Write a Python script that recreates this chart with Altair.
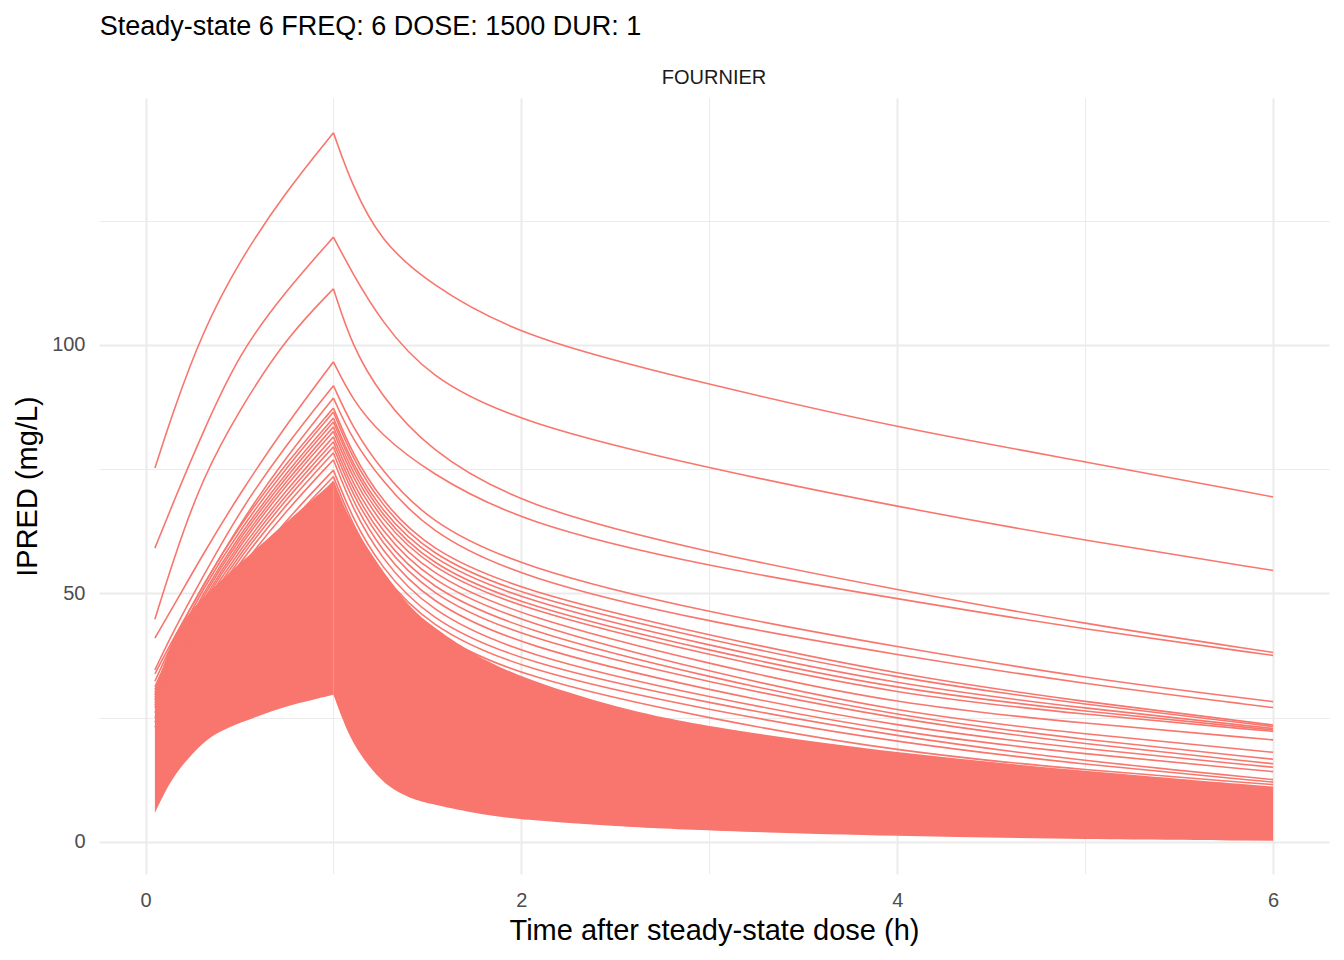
import altair as alt
import pandas as pd

RED = "#F8766D"
FONT = "Liberation Sans"

# sampling times (h) for the individual profiles
T = [0.05, 0.15, 0.3, 0.5, 0.75, 1.0, 1.1, 1.25, 1.5, 2.0, 3.0, 4.0, 5.0, 6.0]

# clearly separated individual profiles (IPRED, mg/L)
ID_A = [75.2, 86.9, 102.4, 117.0, 131.0, 142.7, 132.0, 121.0, 112.5, 101.4, 92.0, 83.3, 76.5, 69.4]
ID_B = [59.1, 68.5, 82.0, 98.5, 111.0, 121.7, 114.5, 105.0, 93.6, 84.2, 75.1, 67.4, 60.6, 54.6]
ID_C = [44.8, 57.0, 73.0, 87.0, 101.5, 111.3, 99.7, 90.0, 79.0, 67.5, 58.1, 50.7, 43.8, 38.1]
ID_D = [41.0, 47.5, 57.5, 70.0, 84.0, 96.6, 89.0, 82.0, 74.5, 64.1, 55.3, 48.9, 42.7, 37.5]
ID_E = [34.6, 42.5, 53.0, 66.5, 80.0, 91.8, 83.5, 75.0, 64.5, 55.1, 46.0, 39.2, 32.9, 28.2]
ID_F = [33.8, 41.0, 51.0, 64.0, 77.5, 89.3, 81.0, 73.0, 62.5, 53.0, 44.1, 37.6, 31.7, 27.0]
# band of profiles just above the dense core
ID_G01 = [32.3, 40.6, 51.5, 63.6, 76.3, 87.3, 78.1, 68.9, 58.9, 50.4, 41.5, 33.6, 28.1, 23.5]
ID_G02 = [31.2, 39.5, 50.6, 62.7, 75.4, 86.5, 77.2, 68.0, 57.9, 49.4, 40.6, 32.8, 27.6, 23.2]
ID_G03 = [30.6, 38.8, 49.7, 61.8, 74.4, 85.3, 76.1, 66.9, 57.0, 48.5, 39.4, 31.6, 26.8, 22.8]
ID_G04 = [30.0, 38.2, 49.1, 61.1, 73.6, 84.5, 75.3, 66.0, 56.0, 47.5, 38.4, 30.6, 26.2, 22.5]
ID_G05 = [29.5, 37.6, 48.4, 60.3, 72.7, 83.5, 74.3, 65.1, 55.2, 46.7, 37.5, 29.6, 25.6, 22.2]
ID_G06 = [29.0, 37.0, 47.8, 59.6, 71.9, 82.6, 73.3, 64.0, 53.9, 45.3, 35.7, 27.6, 23.8, 20.5]
ID_G07 = [28.5, 36.5, 47.1, 58.7, 70.9, 81.5, 72.1, 62.8, 52.6, 44.0, 34.1, 26.0, 21.6, 18.0]
ID_G08 = [28.0, 35.9, 46.4, 57.9, 70.0, 80.5, 71.0, 61.5, 51.2, 42.5, 33.0, 25.2, 20.5, 16.6]
ID_G09 = [27.5, 35.3, 45.7, 57.1, 69.1, 79.5, 69.9, 60.3, 49.9, 41.0, 32.0, 24.5, 19.6, 15.7]
ID_G10 = [27.0, 34.7, 45.0, 56.2, 68.0, 78.3, 68.6, 58.8, 48.3, 39.3, 30.4, 23.1, 18.6, 15.0]
ID_G11 = [26.0, 33.6, 43.8, 55.0, 66.7, 76.9, 67.1, 57.2, 46.6, 37.5, 29.0, 21.9, 17.6, 14.1]
ID_G12 = [25.0, 32.5, 42.4, 53.4, 64.8, 74.8, 65.1, 55.4, 44.9, 36.0, 27.8, 21.1, 16.2, 12.5]
ID_G13 = [24.0, 31.4, 41.3, 52.2, 63.6, 73.5, 63.8, 54.0, 43.5, 34.5, 26.4, 19.9, 15.5, 12.0]
ID_G14 = [23.0, 30.4, 40.3, 51.2, 62.6, 72.5, 62.6, 52.8, 42.1, 33.0, 24.7, 18.1, 14.4, 11.5]

PROFILES = [ID_A, ID_B, ID_C, ID_D, ID_E, ID_F, ID_G01, ID_G02, ID_G03, ID_G04,
            ID_G05, ID_G06, ID_G07, ID_G08, ID_G09, ID_G10, ID_G11, ID_G12, ID_G13, ID_G14]

# the densely overplotted core of hundreds of profiles: lowest and upper envelope
T_CORE = [0.05, 0.1, 0.15, 0.2, 0.3, 0.4, 0.5, 0.65, 0.8, 1.0, 1.05, 1.1, 1.2, 1.3,
          1.4, 1.5, 1.75, 2.0, 2.5, 3.0, 4.0, 5.0, 6.0]
CORE_LO = [5.8, 9.8, 13.0, 15.6, 19.9, 22.3, 23.9, 26.0, 27.8, 29.6, 24.5, 20.0, 14.5, 10.8,
           8.9, 7.7, 5.7, 4.4, 3.1, 2.2, 1.1, 0.5, 0.2]
CORE_HI = [30.5, 36.0, 41.0, 44.5, 49.0, 52.5, 56.0, 61.0, 66.0, 72.5, 68.0, 64.0, 58.0, 52.5,
           47.5, 44.0, 37.5, 33.0, 27.0, 23.0, 17.8, 14.2, 11.1]

PANEL = "FOURNIER"
END_OF_INFUSION = 1.0

rows = []
for i, prof in enumerate(PROFILES):
    for t, v in zip(T, prof):
        # infusion phase and post-infusion phase drawn as two pieces meeting at the peak
        if t <= END_OF_INFUSION:
            rows.append({"kind": "line", "id": f"{i}-a", "t": t, "v": v, "panel": PANEL})
        if t >= END_OF_INFUSION:
            rows.append({"kind": "line", "id": f"{i}-b", "t": t, "v": v, "panel": PANEL})
for t, lo, hi in zip(T_CORE, CORE_LO, CORE_HI):
    if t <= END_OF_INFUSION:
        rows.append({"kind": "core_a", "t": t, "lo": lo, "hi": hi, "panel": PANEL})
    if t >= END_OF_INFUSION:
        rows.append({"kind": "core_b", "t": t, "lo": lo, "hi": hi, "panel": PANEL})
df = pd.DataFrame(rows)

x_scale = alt.Scale(domain=[-0.2475, 6.2975], nice=False, zero=False)
y_scale = alt.Scale(domain=[-6.5, 149.7], nice=False, zero=False)

x_axis = alt.Axis(
    title="Time after steady-state dose (h)",
    values=[0, 1, 2, 3, 4, 5, 6],
    labelExpr="datum.value % 2 === 0 ? datum.label : ''",
    gridWidth={"condition": {"test": "datum.value % 2 === 0", "value": 2}, "value": 1},
    domain=False, ticks=False, tickSize=0,
    labelPadding=16, titlePadding=6,
)
y_axis = alt.Axis(
    title="IPRED (mg/L)",
    values=[0, 25, 50, 75, 100, 125],
    labelExpr="datum.value % 50 === 0 ? datum.label : ''",
    gridWidth={"condition": {"test": "datum.value % 50 === 0", "value": 2}, "value": 1},
    domain=False, ticks=False, tickSize=0,
    labelPadding=14, titlePadding=9,
)


def core_layer(kind):
    return alt.Chart().transform_filter(f"datum.kind === '{kind}'").mark_area(
        color=RED, opacity=1, interpolate="basis"
    ).encode(
        x=alt.X("t:Q", scale=x_scale, axis=x_axis),
        y=alt.Y("lo:Q", scale=y_scale, axis=y_axis),
        y2="hi:Q",
    )


lines = alt.Chart().transform_filter("datum.kind === 'line'").mark_line(
    color=RED, strokeWidth=1.6, interpolate="basis"
).encode(
    x=alt.X("t:Q", scale=x_scale, axis=x_axis),
    y=alt.Y("v:Q", scale=y_scale, axis=y_axis),
    detail="id:N",
)

chart = alt.layer(core_layer("core_a"), core_layer("core_b"), lines, data=df).properties(
    width=1230, height=776
).facet(
    column=alt.Column(
        "panel:N",
        header=alt.Header(title=None, labelFontSize=20, labelFont=FONT,
                          labelColor="#1a1a1a", labelPadding=10),
    )
).properties(
    title=alt.TitleParams(
        "Steady-state 6 FREQ: 6 DOSE: 1500 DUR: 1",
        anchor="start", fontSize=27, fontWeight="normal", font=FONT,
        color="#000000", offset=27, dx=86,
    )
).configure_view(
    stroke=None
).configure_axis(
    gridColor="#EBEBEB",
    labelFont=FONT, labelFontSize=20, labelColor="#4D4D4D",
    titleFont=FONT, titleFontSize=29, titleFontWeight="normal", titleColor="#000000",
)

chart.save("out.html", embed_options={"renderer": "svg", "actions": False})
